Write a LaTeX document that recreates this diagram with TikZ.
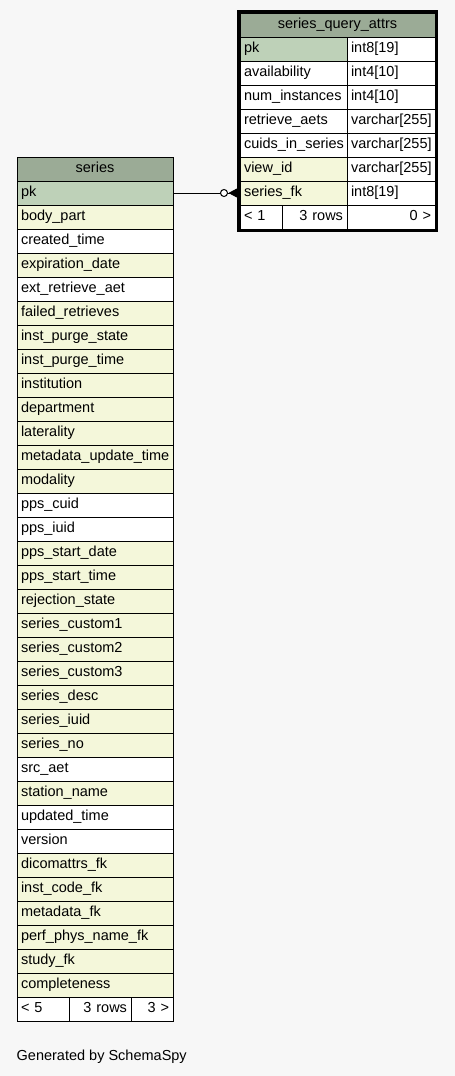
\documentclass[tikz,border=0pt]{standalone}
\usepackage{fontspec}
\setmainfont{Liberation Sans}
\usetikzlibrary{positioning}
\definecolor{bgcol}{HTML}{F7F7F7}
\definecolor{headcol}{HTML}{9BAB96}
\definecolor{keycol}{HTML}{BED1B8}
\definecolor{idxcol}{HTML}{F4F7DA}
\tikzset{
  cell/.style={draw,line width=1pt,anchor=north west,outer sep=0pt,
    inner xsep=4pt,inner ysep=0pt,minimum height=24pt,
    text height=10.3pt,text depth=3pt,
    font=\fontsize{14.5}{16}\selectfont},
  link/.style={line width=1pt}
}
\begin{document}
\begin{tikzpicture}[x=1pt,y=-1pt]
  \fill[bgcol] (0,0) rectangle (455,1076);
  \useasboundingbox (0,0) rectangle (455,1076);
  % series
  \node[cell,fill=headcol,text width=148pt,align=center] (s0) at (17,157) {series};
  \foreach \fname/\col [count=\i] in {
      pk/keycol, body\_part/idxcol, created\_time/white,
      expiration\_date/idxcol, ext\_retrieve\_aet/white,
      failed\_retrieves/idxcol, inst\_purge\_state/idxcol,
      inst\_purge\_time/idxcol, institution/idxcol, department/idxcol,
      laterality/idxcol, metadata\_update\_time/idxcol, modality/idxcol,
      pps\_cuid/white, pps\_iuid/white, pps\_start\_date/idxcol,
      pps\_start\_time/idxcol, rejection\_state/idxcol,
      series\_custom1/idxcol, series\_custom2/idxcol,
      series\_custom3/idxcol, series\_desc/idxcol, series\_iuid/idxcol,
      series\_no/idxcol, src\_aet/white, station\_name/idxcol,
      updated\_time/white, version/white, dicomattrs\_fk/idxcol,
      inst\_code\_fk/idxcol, metadata\_fk/idxcol,
      perf\_phys\_name\_fk/idxcol, study\_fk/idxcol, completeness/idxcol}
    \node[cell,fill=\col,text width=148pt,align=left] (s\i) at (17,{157+24*\i}) {\fname};
  \node[cell,fill=white,text width=44pt,align=left] (sprev) at (17,997) {< 5};
  \node[cell,fill=white,text width=54pt,align=right] (srows) at (69,997) {3 rows};
  \node[cell,fill=white,text width=34pt,align=right] (snext) at (131,997) {3 >};
  % series_query_attrs
  \node[cell,fill=headcol,text width=187pt,align=center] (q0) at (240,13) {series\_query\_attrs};
  \foreach \fname/\ftype/\col [count=\i] in {
      pk/int8[19]/keycol, availability/int4[10]/white,
      num\_instances/int4[10]/white, retrieve\_aets/varchar[255]/white,
      cuids\_in\_series/varchar[255]/white, view\_id/varchar[255]/idxcol,
      series\_fk/int8[19]/idxcol}
  {
    \node[cell,fill=\col,text width=99pt,align=left] (q\i) at (240,{13+24*\i}) {\fname};
    \node[cell,fill=white,text width=80pt,align=left] (qt\i) at (347,{13+24*\i}) {\ftype};
  }
  \node[cell,fill=white,text width=34pt,align=left] (qprev) at (240,205) {< 1};
  \node[cell,fill=white,text width=57pt,align=right] (qrows) at (282,205) {3 rows};
  \node[cell,fill=white,text width=80pt,align=right] (qnext) at (347,205) {0 >};
  \draw[line width=3pt]
    (238.5,11.5) rectangle (436.5,230.5);
  % relationship
  \draw[link]
    (s1.east)
    --
    (q7.west);
  \node[draw,link,circle,fill=white,inner sep=0pt,minimum size=7pt] (opt) at (224,193) {};
  \coordinate (crow) at (229.5,193);
  \filldraw[link,line join=round]
    (crow) -- (237,189) -- (237,197) -- cycle;
  \node[anchor=base west,inner sep=0pt,font=\fontsize{14.5}{16}\selectfont] (gen)
    at (16.5,1060.5) {Generated by SchemaSpy};
\end{tikzpicture}
\end{document}
